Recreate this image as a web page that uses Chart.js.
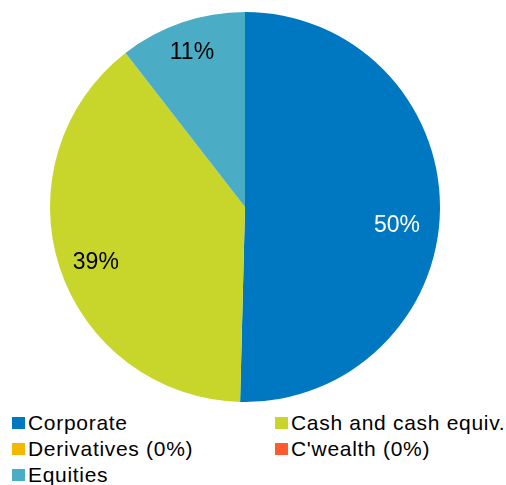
<!DOCTYPE html>
<html lang="en">
<head>
  <meta charset="UTF-8">
  <title>Asset allocation</title>
  <style>
    body { margin: 0; background: #fff; font-family: Arial, "Liberation Sans", sans-serif; }
    #wrap { position: relative; width: 506px; height: 405px; }
    #leyenda {
      display: grid;
      grid-template-columns: 263px 231px;
      grid-auto-rows: 26px;
      padding-left: 12px;
      margin-top: 5px;
      font-size: 21px;
      letter-spacing: 0.7px;
      color: #000;
    }
    #leyenda div { display: flex; align-items: center; white-space: nowrap; }
    #leyenda span.caja { width: 13px; height: 12px; margin-right: 3px; flex: none; }
  </style>
</head>
<body>
  <div id="wrap"><canvas id="graficoPie"></canvas></div>
  <div id="leyenda"></div>

<script src="https://cdn.jsdelivr.net/npm/chart.js"></script>

<script>
  const categorias = ['Corporate', 'Cash and cash equiv.', 'Derivatives', "C'wealth", 'Equities'];
  const leyendaTextos = ['Corporate', 'Cash and cash equiv.', 'Derivatives (0%)', "C'wealth (0%)", 'Equities'];
  const valores = [50.4, 39.1, 0, 0, 10.5];
  const etiquetas = ['50%', '39%', '', '', '11%'];
  const colores = ['#0078C1', '#C8D62B', '#F5B800', '#FF5A30', '#4BACC6'];
  const coloresTexto = ['#ffffff', '#000000', '#000000', '#000000', '#000000'];

  // etiquetas de porcentaje dentro de cada sector ("best fit")
  const etiquetasPlugin = {
    id: 'etiquetasPie',
    afterDatasetsDraw(chart, args, opts) {
      const ctx = chart.ctx;
      const meta = chart.getDatasetMeta(0);
      ctx.save();
      ctx.font = '23px Arial, "Liberation Sans", sans-serif';
      ctx.textAlign = 'center';
      ctx.textBaseline = 'middle';
      meta.data.forEach((arc, i) => {
        if (!etiquetas[i]) return;
        const p = arc.getProps(['x', 'y', 'startAngle', 'endAngle', 'outerRadius'], true);
        const ajuste = opts.ajustes[i];
        const mid = (p.startAngle + p.endAngle) / 2 + ajuste.giro * Math.PI / 180;
        const r = p.outerRadius * ajuste.r;
        ctx.fillStyle = coloresTexto[i];
        ctx.fillText(etiquetas[i], p.x + Math.cos(mid) * r, p.y + Math.sin(mid) * r + 1);
      });
      ctx.restore();
    }
  };

  new Chart(document.getElementById('graficoPie').getContext('2d'), {
    type: 'pie',
    data: {
      labels: categorias,
      datasets: [{
        data: valores,
        backgroundColor: colores,
        borderWidth: 0
      }]
    },
    options: {
      responsive: true,
      maintainAspectRatio: false,
      animation: false,
      layout: { padding: { top: 12, bottom: 3, left: 0, right: 16 } },
      plugins: {
        legend: { display: false },
        tooltip: { enabled: false },
        etiquetasPie: {
          ajustes: [
            { r: 0.785, giro: 6 },
            { r: 0.815, giro: -2 },
            { r: 0, giro: 0 },
            { r: 0, giro: 0 },
            { r: 0.84, giro: 0 }
          ]
        }
      }
    },
    plugins: [etiquetasPlugin]
  });

  const leyenda = document.getElementById('leyenda');
  leyendaTextos.forEach((txt, i) => {
    const item = document.createElement('div');
    item.innerHTML = `<span class="caja" style="background:${colores[i]}"></span>${txt}`;
    leyenda.appendChild(item);
  });
</script>
</body>
</html>
